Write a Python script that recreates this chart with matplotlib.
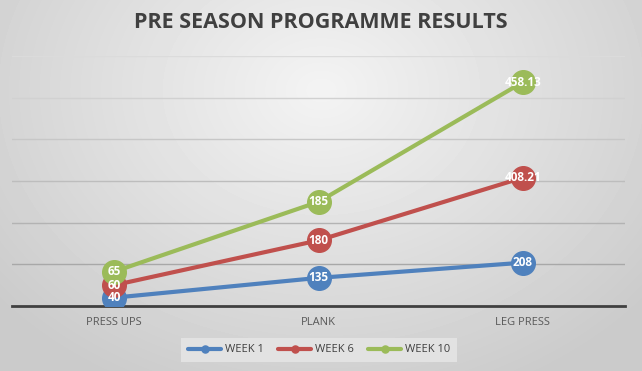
import matplotlib.pyplot as plt
import numpy as np

categories = ["PRESS UPS", "PLANK", "LEG PRESS"]
week1 = [40, 135, 208]
week6 = [60, 180, 408.21]
week10 = [65, 185, 458.13]
series_names = ["WEEK 1", "WEEK 6", "WEEK 10"]
colors = ["#4F81BD", "#C0504D", "#9BBB59"]

plt.rcParams['font.family'] = ['Open Sans', 'DejaVu Sans']

fig = plt.figure(figsize=(6.42, 3.71), dpi=100)

# radial grey background
bg = fig.add_axes([0, 0, 1, 1], zorder=-10)
yy, xx = np.mgrid[0:371, 0:642]
r = np.sqrt(((xx - 321) / 420.0) ** 2 + ((yy - 90) / 330.0) ** 2)
r = np.clip(r, 0, 1)
shade = 0.955 - 0.16 * r
bg.imshow(shade, cmap="gray", vmin=0, vmax=1, aspect="auto", extent=[0, 1, 0, 1])
bg.axis("off")

ax = fig.add_axes([12 / 642, 1 - 306 / 371, 613 / 642, 250 / 371])
ax.set_facecolor("none")

x = np.arange(len(categories))
bottom = np.zeros(len(categories))
for vals, name, col in zip([week1, week6, week10], series_names, colors):
    stacked = bottom + np.array(vals)
    ax.plot(x, stacked, color=col, lw=3, marker="o", markersize=17,
            label=name, zorder=3, solid_capstyle="round")
    for xi, yi, v in zip(x, stacked, vals):
        txt = ("%.2f" % v) if v != int(v) else str(int(v))
        ax.text(xi, yi, txt, color="white", fontsize=8.5, fontweight="bold",
                ha="center", va="center", zorder=4)
    bottom = stacked

ax.set_xlim(-0.5, 2.5)
ax.set_ylim(0, 1200)
ax.set_yticks(np.arange(0, 1201, 200))
ax.tick_params(axis="y", left=False, labelleft=False)
# gridlines a touch darker toward the bottom, like the original
for i, gy in enumerate(np.arange(200, 1201, 200)):
    g = 0.66 + 0.04 * i
    ax.axhline(gy, color=(g, g, g), lw=1, zorder=1)
ax.tick_params(axis="x", length=0, pad=8, labelsize=8, labelcolor="#595959")
ax.set_xticks(x)
ax.set_xticklabels(categories)
for s in ["top", "right", "left"]:
    ax.spines[s].set_visible(False)
ax.spines["bottom"].set_color("#404040")
ax.spines["bottom"].set_linewidth(2)

leg = fig.legend(loc="center", bbox_to_anchor=(319 / 642, 1 - 350 / 371), ncol=3,
                 fontsize=8, frameon=True, fancybox=False, markerscale=0.3,
                 handlelength=3, columnspacing=1.3, handletextpad=0.3,
                 borderpad=0.6)
leg.get_frame().set_facecolor("#e2e2e2")
leg.get_frame().set_edgecolor("none")
leg.get_frame().set_alpha(1)
for t in leg.get_texts():
    t.set_color("#404040")

fig.text(0.5, 1 - 22 / 371, "PRE SEASON PROGRAMME RESULTS", ha="center", va="center",
         fontsize=15.5, fontweight="bold", color="#404040")

fig.savefig("out.png", dpi=100)
